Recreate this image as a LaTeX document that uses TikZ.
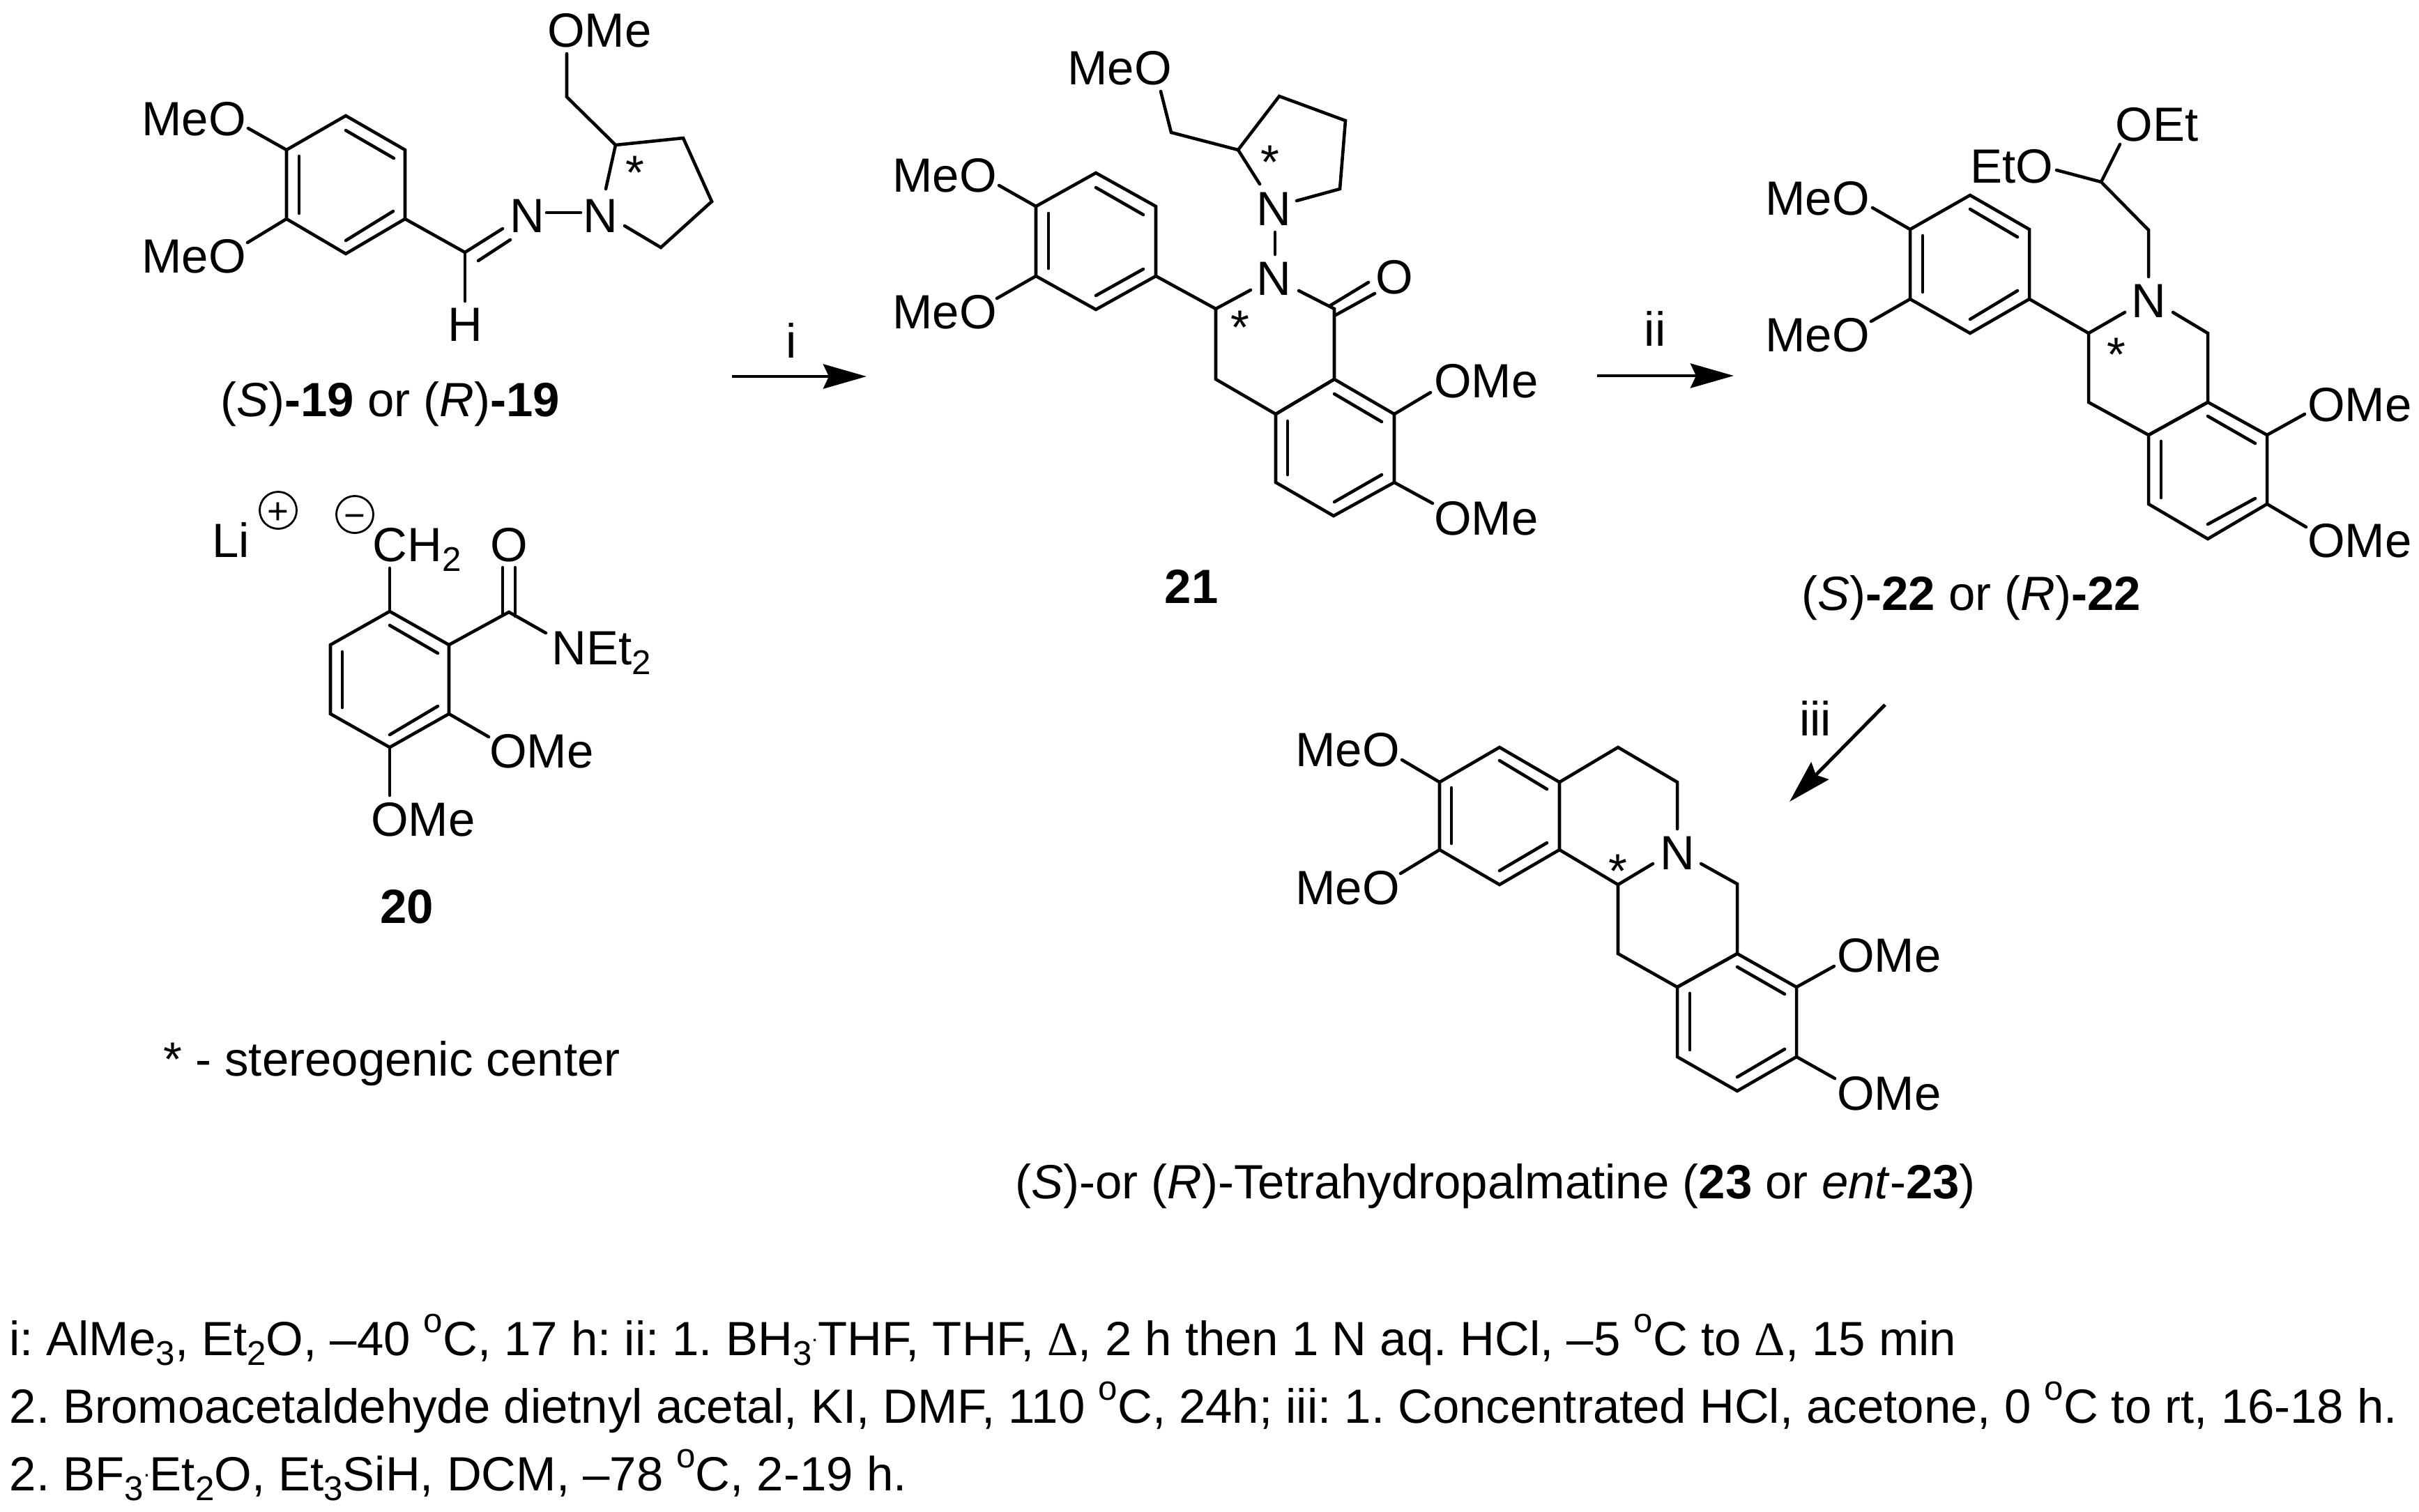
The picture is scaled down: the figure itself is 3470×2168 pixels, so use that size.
\documentclass[tikz,border=0pt]{standalone}
\usepackage{fontspec}
\setmainfont{Liberation Sans}
\newfontfamily\symfont{Liberation Serif}
\usetikzlibrary{arrows.meta}
\tikzset{
  x=0.01cm,y=-0.01cm,
  bond/.style={line width=1.3pt,line cap=round,line join=miter,black},
  rxn/.style={line width=1.4pt,-{Stealth[length=6.2mm,width=3.5mm,inset=0.8mm]}},
  lab/.style={anchor=base,inner sep=0pt,outer sep=0pt,font=\fontsize{19.6}{22}\selectfont\frenchspacing},
  foot/.style={anchor=base west,inner sep=0pt,outer sep=0pt,font=\fontsize{19.6}{22}\selectfont\frenchspacing},
  chg/.style={anchor=base,inner sep=0pt,outer sep=0pt,font=\fontsize{15}{17}\selectfont},
  ring/.style={circle,draw,line width=0.8pt,minimum size=0.53cm,inner sep=0pt},
}
\newcommand\vx[3]{\coordinate (#1) at (#2,#3);}
\newcommand\atm[4]{\node[lab] (#1) at (#2,#3) {#4};}
\newcommand\strr[3]{\node[lab] (#1) at (#2,#3+31) {*};}
\newcommand\inb[5]{\coordinate (#1s) at (#2,#3); \coordinate (#1e) at (#4,#5); \draw[bond] (#1s) -- (#1e);}
\newcommand\sbb[1]{\raisebox{-.21em}{\fontsize{14}{15}\selectfont #1}}
\newcommand\dgr{\raisebox{.47em}{\fontsize{14}{15}\selectfont o}}
\newcommand\dotm{\raisebox{.28em}{\fontsize{9}{10}\selectfont .}}
\newcommand\dlt{{\symfont Δ}}
\begin{document}
\begin{tikzpicture}
\useasboundingbox (0,0) rectangle (3470,2168);
%% ---------- compound 19
\vx{a1}{496}{166}\vx{a2}{581}{215}\vx{a3}{581}{314}\vx{a4}{496}{364}\vx{a5}{411}{314}\vx{a6}{411}{215}
\draw[bond] (a1)--(a2)--(a3)--(a4)--(a5)--(a6)--cycle;
\inb{ai1}{496}{187}{565}{227}\inb{ai2}{429}{224}{429}{306}\inb{ai3}{496}{345}{564}{303}
\vx{aO1}{356}{184}\vx{aO2}{355}{348}
\draw[bond] (a6)--(aO1); \draw[bond] (a5)--(aO2);
\vx{aC}{667}{362}\vx{aCN}{721}{328}\vx{aH}{667}{432}
\draw[bond] (a3)--(aC)--(aCN); \draw[bond] (aC)--(aH);
\inb{aD}{686}{374}{732}{344}
\inb{aNN}{784}{305}{833}{305}
\vx{ap2}{883}{208}\vx{ap3}{980}{198}\vx{ap4}{1021}{289}\vx{ap5}{948}{355}\vx{apA}{896}{324}\vx{apB}{869}{271}
\draw[bond] (apB)--(ap2)--(ap3)--(ap4)--(ap5)--(apA);
\vx{apC}{813}{139}\vx{apO}{813}{77}
\draw[bond] (ap2)--(apC)--(apO);
\atm{t1}{278}{194}{MeO}\atm{t2}{278}{391}{MeO}\atm{t3}{860}{67}{OMe}
\atm{t4}{756}{333}{N}\atm{t5}{861}{333}{N}\atm{t6}{667}{489}{H}
\strr{s1}{911}{240}
\atm{c19}{560}{597}{(\textit{S})\textbf{-19} or (\textit{R})\textbf{-19}}
%% ---------- compound 20
\vx{b1}{559}{877}\vx{b2}{644}{925}\vx{b3}{644}{1024}\vx{b4}{559}{1072}\vx{b5}{474}{1024}\vx{b6}{474}{925}
\draw[bond] (b1)--(b2)--(b3)--(b4)--(b5)--(b6)--cycle;
\inb{bi1}{559}{897}{628}{937}\inb{bi2}{491}{935}{491}{1015}\inb{bi3}{559}{1054}{628}{1013}
\vx{bCH}{559}{815}\vx{bCO}{730}{878}\vx{bN}{783}{908}\vx{bO1}{701}{1057}\vx{bO2}{559}{1141}
\draw[bond] (b1)--(bCH); \draw[bond] (b2)--(bCO)--(bN); \draw[bond] (b3)--(bO1); \draw[bond] (b4)--(bO2);
\inb{bD1}{721}{814}{721}{880}\inb{bD2}{739}{814}{739}{884}
\atm{u1}{331}{799}{Li}
\node[ring] (pl) at (399,732) {}; \node[ring] (mi) at (509,738) {};
\node[chg] (plt) at (399,751) {+}; \node[chg] (mit) at (509,757) {−};
\atm{u2}{598}{805}{CH\sbb{2}}\atm{u3}{730}{805}{O}\atm{u4}{863}{953}{NEt\sbb{2}}
\atm{u5}{777}{1101}{OMe}\atm{u6}{607}{1199}{OMe}
\atm{c20}{584}{1324}{\textbf{20}}
\atm{note}{562}{1543}{* - stereogenic center}
%% ---------- compound 21
\vx{c1}{1572}{248}\vx{c2}{1658}{296}\vx{c3}{1658}{396}\vx{c4}{1572}{444}\vx{c5}{1486}{396}\vx{c6}{1486}{296}
\draw[bond] (c1)--(c2)--(c3)--(c4)--(c5)--(c6)--cycle;
\inb{ci1}{1572}{269}{1640}{308}\inb{ci2}{1504}{306}{1504}{385}\inb{ci3}{1572}{424}{1640}{386}
\vx{cO1}{1433}{266}\vx{cO2}{1430}{428}
\draw[bond] (c6)--(cO1); \draw[bond] (c5)--(cO2);
\vx{cC3}{1744}{443}\vx{cNa}{1794}{416}\vx{cC4}{1744}{544}\vx{cC4a}{1830}{594}\vx{cC8a}{1914}{544}\vx{cC1}{1914}{443}\vx{cNb}{1863}{417}
\draw[bond] (c3)--(cC3)--(cNa);
\draw[bond] (cC3)--(cC4)--(cC4a)--(cC8a)--(cC1)--(cNb);
\inb{cD1}{1907}{439}{1963}{405}\inb{cD2}{1914}{453}{1972}{421}
\inb{cNN}{1829}{333}{1829}{365}
\vx{cC8}{2000}{594}\vx{cC7}{2000}{692}\vx{cC6}{1913}{740}\vx{cC5}{1830}{692}
\draw[bond] (cC4a)--(cC8a)--(cC8)--(cC7)--(cC6)--(cC5)--cycle;
\inb{ci4}{1914}{565}{1982}{605}\inb{ci5}{1847}{604}{1847}{681}\inb{ci6}{1914}{720}{1982}{681}
\vx{cO3}{2052}{563}\vx{cO4}{2055}{722}
\draw[bond] (cC8)--(cO3); \draw[bond] (cC7)--(cO4);
\vx{cpA}{1807}{264}\vx{cp2}{1776}{215}\vx{cp3}{1835}{138}\vx{cp4}{1930}{173}\vx{cp5}{1922}{271}\vx{cpB}{1860}{288}
\draw[bond] (cpA)--(cp2)--(cp3)--(cp4)--(cp5)--(cpB);
\vx{cpC}{1680}{190}\vx{cpO}{1665}{131}
\draw[bond] (cp2)--(cpC)--(cpO);
\atm{v1}{1355}{275}{MeO}\atm{v2}{1355}{471}{MeO}\atm{v3}{1606}{121}{MeO}
\atm{v4}{1827}{323}{N}\atm{v5}{1827}{423}{N}\atm{v6}{2000}{421}{O}
\atm{v7}{2132}{570}{OMe}\atm{v8}{2132}{767}{OMe}
\strr{s2}{1822}{225}\strr{s3}{1779}{462}
\atm{c21}{1709}{865}{\textbf{21}}
%% ---------- compound 22
\vx{d1}{2826}{280}\vx{d2}{2911}{329}\vx{d3}{2911}{429}\vx{d4}{2826}{478}\vx{d5}{2740}{429}\vx{d6}{2740}{329}
\draw[bond] (d1)--(d2)--(d3)--(d4)--(d5)--(d6)--cycle;
\inb{di1}{2826}{300}{2894}{340}\inb{di2}{2758}{338}{2758}{419}\inb{di3}{2826}{458}{2894}{417}
\vx{dO1}{2686}{298}\vx{dO2}{2684}{461}
\draw[bond] (d6)--(dO1); \draw[bond] (d5)--(dO2);
\vx{dC3}{2996}{478}\vx{dNa}{3048}{448}\vx{dC4}{2996}{577}\vx{dC4a}{3082}{624}\vx{dC8a}{3167}{577}\vx{dC1}{3167}{478}\vx{dNb}{3117}{448}
\draw[bond] (d3)--(dC3)--(dNa);
\draw[bond] (dC3)--(dC4)--(dC4a)--(dC8a)--(dC1)--(dNb);
\vx{dNc}{3082}{397}\vx{dCH2}{3082}{330}\vx{dCH}{3014}{261}\vx{dO3}{3041}{207}\vx{dO4}{2950}{244}
\draw[bond] (dNc)--(dCH2)--(dCH)--(dO3); \draw[bond] (dCH)--(dO4);
\vx{dC8}{3252}{624}\vx{dC7}{3252}{723}\vx{dC6}{3167}{773}\vx{dC5}{3082}{723}
\draw[bond] (dC4a)--(dC8a)--(dC8)--(dC7)--(dC6)--(dC5)--cycle;
\inb{di4}{3167}{597}{3235}{636}\inb{di5}{3100}{633}{3100}{714}\inb{di6}{3167}{752}{3235}{715}
\vx{dO5}{3306}{594}\vx{dO6}{3308}{756}
\draw[bond] (dC8)--(dO5); \draw[bond] (dC7)--(dO6);
\atm{w1}{2607}{308}{MeO}\atm{w2}{2607}{504}{MeO}\atm{w3}{3082}{455}{N}
\atm{w4}{3094}{202}{OEt}\atm{w5}{2886}{262}{EtO}
\atm{w6}{3385}{604}{OMe}\atm{w7}{3385}{799}{OMe}
\strr{s4}{3036}{501}
\atm{c22}{2828}{875}{(\textit{S})\textbf{-22} or (\textit{R})\textbf{-22}}
%% ---------- compound 23
\vx{e1}{2151}{1072}\vx{e2}{2237}{1122}\vx{e3}{2237}{1219}\vx{e4}{2151}{1269}\vx{e5}{2065}{1219}\vx{e6}{2065}{1122}
\draw[bond] (e1)--(e2)--(e3)--(e4)--(e5)--(e6)--cycle;
\inb{ei1}{2151}{1091}{2219}{1132}\inb{ei2}{2082}{1130}{2082}{1210}\inb{ei3}{2151}{1249}{2219}{1209}
\vx{eO1}{2011}{1090}\vx{eO2}{2009}{1253}
\draw[bond] (e6)--(eO1); \draw[bond] (e5)--(eO2);
\vx{eC5}{2321}{1072}\vx{eC6}{2406}{1122}\vx{eNa}{2406}{1189}\vx{eCa}{2321}{1269}\vx{eNb}{2371}{1239}\vx{eNc}{2440}{1239}
\vx{eC8}{2492}{1268}\vx{eC8a}{2492}{1368}\vx{eC13}{2321}{1368}\vx{eC12a}{2406}{1416}
\draw[bond] (e2)--(eC5)--(eC6)--(eNa);
\draw[bond] (e3)--(eCa)--(eNb);
\draw[bond] (eNc)--(eC8)--(eC8a)--(eC12a)--(eC13)--(eCa);
\vx{eC9}{2577}{1416}\vx{eC10}{2577}{1516}\vx{eC11}{2492}{1565}\vx{eC12}{2406}{1516}
\draw[bond] (eC8a)--(eC9)--(eC10)--(eC11)--(eC12)--(eC12a)--cycle;
\inb{ei4}{2492}{1387}{2560}{1426}\inb{ei5}{2424}{1425}{2424}{1506}\inb{ei6}{2492}{1545}{2560}{1505}
\vx{eO3}{2631}{1386}\vx{eO4}{2632}{1547}
\draw[bond] (eC9)--(eO3); \draw[bond] (eC10)--(eO4);
\atm{y1}{1933}{1099}{MeO}\atm{y2}{1933}{1297}{MeO}\atm{y3}{2406}{1247}{N}
\atm{y4}{2710}{1394}{OMe}\atm{y5}{2710}{1592}{OMe}
\strr{s5}{2321}{1242}
\atm{c23}{2145}{1719}{(\textit{S})-or (\textit{R})-Tetrahydropalmatine (\textbf{23} or \textit{ent}-\textbf{23})}
%% ---------- reaction arrows
\vx{r1a}{1050}{540}\vx{r1b}{1243}{540}\draw[rxn] (r1a)--(r1b);
\vx{r2a}{2291}{539}\vx{r2b}{2487}{539}\draw[rxn] (r2a)--(r2b);
\vx{r3a}{2704}{1011}\vx{r3b}{2567}{1150}\draw[rxn] (r3a)--(r3b);
\atm{ri}{1135}{513}{i}\atm{rii}{2374}{496}{ii}\atm{riii}{2604}{1055}{iii}
%% ---------- footnotes
\node[foot] (f1) at (13,1944) {i: AlMe\sbb{3}, Et\sbb{2}O, –40 \dgr C, 17 h: ii: 1. BH\sbb{3}\dotm THF, THF, \dlt, 2 h then 1 N aq. HCl, –5 \dgr C to \dlt, 15 min};
\node[foot] (f2) at (14,2041) {2. Bromoacetaldehyde dietnyl acetal, KI, DMF, 110 \dgr C, 24h; iii: 1. Concentrated HCl, acetone, 0 \dgr C to rt, 16-18 h.};
\node[foot] (f3) at (14,2138) {2. BF\sbb{3}\dotm Et\sbb{2}O, Et\sbb{3}SiH, DCM, –78 \dgr C, 2-19 h.};
\end{tikzpicture}
\end{document}
